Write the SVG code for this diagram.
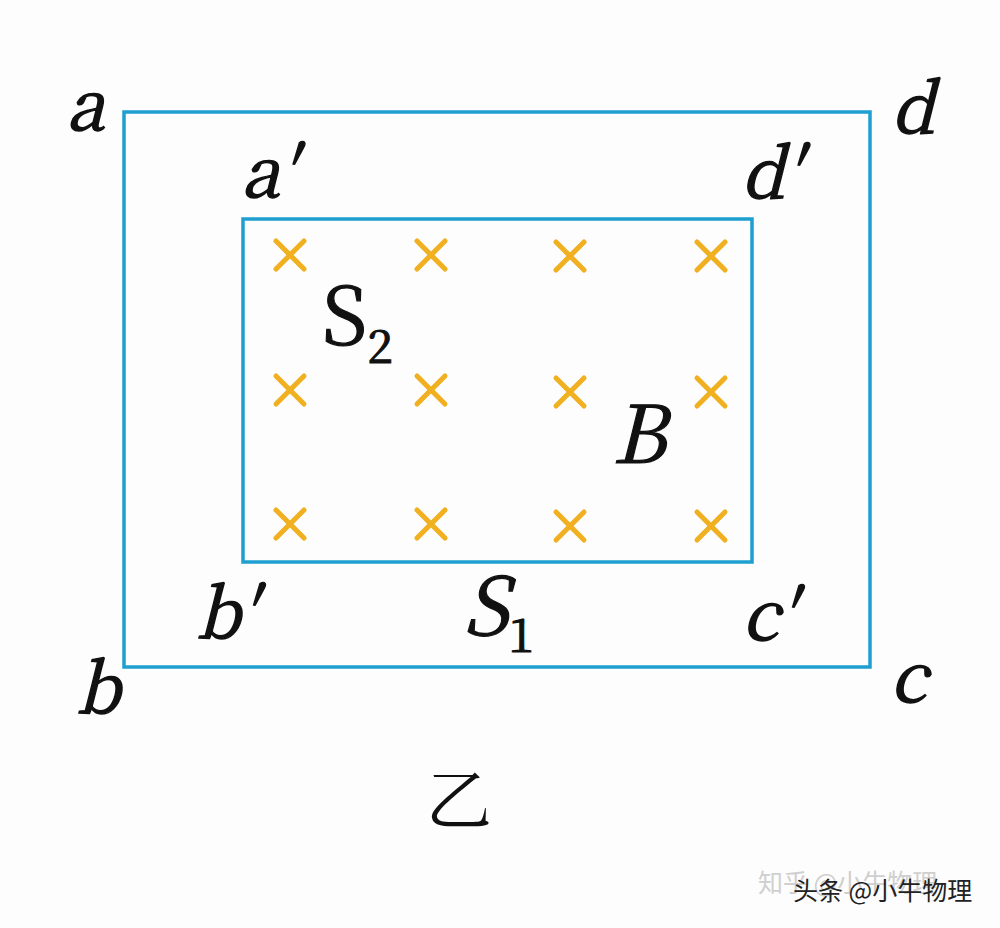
<svg xmlns="http://www.w3.org/2000/svg" width="1000" height="928" viewBox="0 0 1000 928">
<defs>
<style>
.frame{fill:none;stroke:#1e9fd0;stroke-width:3.5}
.lbl{font-style:italic;font-size:69px;fill:#111;stroke:#111;stroke-width:1.4}
.big{font-size:80px;fill:#111;stroke:#111;stroke-width:1.2}
.sub{font-size:46px;font-style:normal;fill:#111}
.xm{stroke:#f0b020;stroke-width:5;stroke-linecap:round}
.cjk{font-family:"Noto Sans CJK SC",sans-serif}
</style>
<g id="xmark"><line class="xm" x1="-14" y1="-14" x2="14" y2="14"/><line class="xm" x1="-14" y1="14" x2="14" y2="-14"/></g>
</defs>
<rect width="1000" height="928" fill="#fdfdfd"/>
<g id="outer-frame"><rect class="frame" x="124" y="112" width="746" height="555"/></g>
<g id="inner-frame"><rect class="frame" x="243" y="219" width="509" height="343"/></g>
<g id="field">
<use href="#xmark" x="290" y="255"/><use href="#xmark" x="431" y="255"/><use href="#xmark" x="570" y="256"/><use href="#xmark" x="711" y="256"/>
<use href="#xmark" x="290" y="390"/><use href="#xmark" x="431" y="390"/><use href="#xmark" x="570" y="392"/><use href="#xmark" x="711" y="392"/>
<use href="#xmark" x="290" y="524"/><use href="#xmark" x="431" y="524"/><use href="#xmark" x="570" y="526"/><use href="#xmark" x="711" y="526"/>
</g>
<g id="labels" font-family="'Noto Serif CJK SC', serif">
<text class="lbl" x="66" y="130">a</text>
<text class="lbl" x="891" y="133">d</text>
<text class="lbl" x="241" y="197">a′</text>
<text class="lbl" x="741" y="198">d′</text>
<text class="lbl" x="196" y="638">b′</text>
<text class="lbl" x="742" y="640">c′</text>
<text class="lbl" x="76" y="713">b</text>
<text class="lbl" x="890" y="702">c</text>
<text class="big" x="322" y="345">S<tspan class="sub" dy="18">2</tspan></text>
<text class="big" x="463" y="635" font-style="italic">S<tspan class="sub" dx="0" dy="17">1</tspan></text>
<text class="big" x="612" y="463" font-style="italic">B</text>
<text x="426" y="824" font-size="66" fill="#111" font-family="'Noto Serif CJK SC', 'Noto Sans CJK SC', sans-serif">乙</text>
</g>
<g id="watermark" class="cjk" font-size="25">
<text x="758" y="892" fill="#cfcfcf">知乎 @小牛物理</text>
<text x="793" y="900" fill="#222">头条 @小牛物理</text>
</g>
</svg>
